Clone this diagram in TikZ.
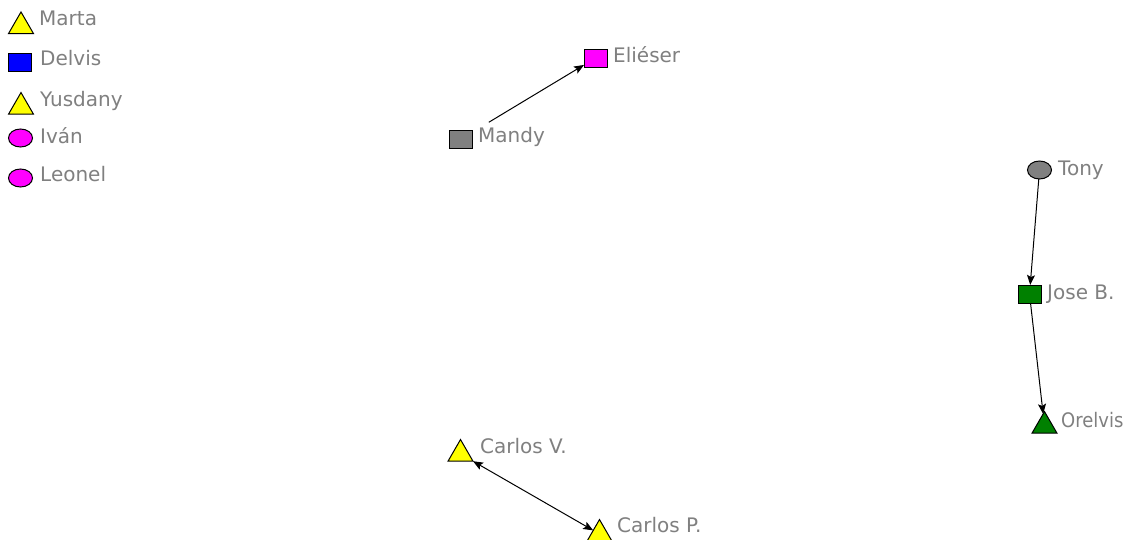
\documentclass[tikz,border=0pt]{standalone}
\usepackage{fontspec}
\setmainfont{DejaVu Sans}
\usetikzlibrary{shapes.geometric,arrows.meta}
\definecolor{txtgray}{RGB}{128,128,128}
\definecolor{ngray}{RGB}{128,128,128}
\definecolor{ngreen}{RGB}{0,128,0}
\definecolor{nyellow}{RGB}{255,255,0}
\definecolor{nblue}{RGB}{0,0,255}
\definecolor{nmag}{RGB}{255,0,255}
\tikzset{
  x=1pt, y=-1pt,
  shapebase/.style={draw=black, line width=1pt, inner sep=0pt, outer sep=0pt},
  trinode/.style={shapebase, regular polygon, regular polygon sides=3, minimum size=28.9pt},
  boxnode/.style={shapebase, rectangle, minimum width=23pt, minimum height=18pt},
  ovalnode/.style={shapebase, ellipse, minimum width=24pt, minimum height=18pt},
  lbl/.style={anchor=base west, inner sep=0pt, text=txtgray, font=\fontsize{20pt}{22pt}\selectfont},
  tip/.tip={Stealth[length=10pt,width=8pt,inset=2pt]},
  edge/.style={line width=1pt, -tip},
}
\begin{document}
\begin{tikzpicture}
\useasboundingbox[fill=white] (0,0) rectangle (1128,539);
% legend (isolated nodes)
\node[trinode, fill=nyellow] (marta) at (21,26.4) {};
\node[lbl] (marta-l) at (39,25) {Marta};
\node[boxnode, fill=nblue] (delvis) at (20,62.5) {};
\node[lbl] (delvis-l) at (40,65) {Delvis};
\node[trinode, fill=nyellow] (yusdany) at (21,107) {};
\node[lbl] (yusdany-l) at (40,106) {Yusdany};
\node[ovalnode, fill=nmag] (ivan) at (20.5,138) {};
\node[lbl] (ivan-l) at (40,143) {Iván};
\node[ovalnode, fill=nmag] (leonel) at (20.5,178) {};
\node[lbl] (leonel-l) at (40,181) {Leonel};
% Mandy -> Eliéser
\node[boxnode, fill=nmag] (elieser) at (595.5,58) {};
\node[lbl] (elieser-l) at (613,62) {Eliéser};
\node[boxnode, fill=ngray] (mandy) at (461,139) {};
\node[lbl] (mandy-l) at (478,142) {Mandy};
\draw[edge, shorten <=19pt] (mandy) -- (elieser);
% Tony -> Jose B. -> Orelvis
\node[ovalnode, fill=ngray] (tony) at (1039.5,170) {};
\node[lbl] (tony-l) at (1058,175) {Tony};
\node[boxnode, fill=ngreen] (jose) at (1029.5,294) {};
\node[lbl] (jose-l) at (1047,299) {Jose B.};
\node[trinode, fill=ngreen] (orelvis) at (1044.5,426) {};
\node[lbl] (orelvis-l) at (1061,427) {\scalebox{0.9}[1]{Orelvis}};
\draw[edge] (tony) -- (jose);
\draw[edge] (jose) -- (orelvis);
% Carlos V. <-> Carlos P.
\node[trinode, fill=nyellow] (carlosv) at (460.5,454) {};
\node[lbl] (carlosv-l) at (480,453) {Carlos V.};
\node[trinode, fill=nyellow] (carlosp) at (599.5,534) {};
\node[lbl] (carlosp-l) at (617,532) {Carlos P.};
\draw[line width=1pt, tip-tip] (carlosv) -- (carlosp);
\end{tikzpicture}
\end{document}
